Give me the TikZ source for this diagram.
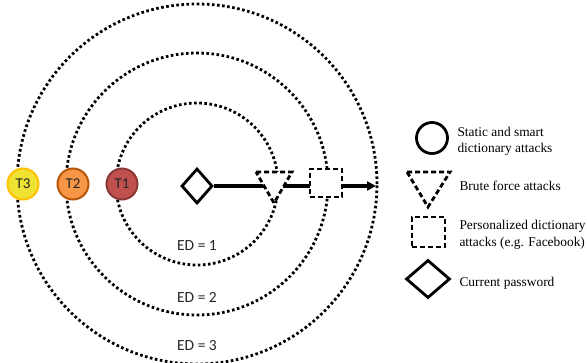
\documentclass[tikz,border=0pt]{standalone}
\usepackage{fontspec}
\setmainfont{Liberation Serif}
\newfontfamily\edfont{Carlito}
\usetikzlibrary{arrows.meta,shapes.geometric,shadows}
\begin{document}
\begin{tikzpicture}[x=1pt,y=-1pt,
 ring/.style={line width=2.8pt, dash pattern=on 2.6pt off 2.5pt},
 tnode/.style={circle, minimum size=31pt, inner sep=0pt, line width=2pt, font=\edfont\fontsize{15}{15}\selectfont, text=black!85},
 edlabel/.style={font=\edfont\fontsize{15.5}{16}\selectfont, text=black!85},
 legtext/.style={anchor=west, align=left, font=\fontsize{13.4}{16.5}\selectfont},
 dashshape/.style={line width=2.8pt, dash pattern=on 5pt off 3pt, fill=white},
 shd/.style={drop shadow={shadow xshift=1.2pt, shadow yshift=-1.2pt, fill=black!30, opacity=0.6}},
]
\useasboundingbox (0,0) rectangle (587,362);
\begin{scope}
\clip (0,0) rectangle (587,362);
\draw[ring] (197,184) circle[radius=81pt];
\draw[ring] (197,184) circle[radius=131pt];
\draw[ring] (197,184) circle[radius=180pt];
\end{scope}
% T nodes
\node[tnode, fill={rgb,255:red,192;green,80;blue,77}, draw={rgb,255:red,140;green,56;blue,54}] (t1) at (122,184) {T1};
\node[tnode, fill={rgb,255:red,247;green,150;blue,70}, draw={rgb,255:red,182;green,87;blue,8}] (t2) at (73,184) {T2};
\node[tnode, fill={rgb,255:red,238;green,226;blue,50}, draw={rgb,255:red,255;green,192;blue,0}] (t3) at (23,184) {T3};
% current password and attacks
\node[diamond, draw, line width=2.8pt, fill=white, minimum width=31pt, minimum height=35pt, inner sep=0pt, shd] (d) at (197,186) {};
\coordinate (tip) at (376,186);
\draw[line width=3.2pt, -{Triangle[length=9pt,width=9pt]}] (d) -- (tip);
\draw[dashshape] (256,172) -- (292,172) -- (274,203) -- cycle;
\node[draw, dashshape, minimum width=32pt, minimum height=28pt, inner sep=0pt] (sq) at (326,183) {};
% ED labels
\node[edlabel] (ed1) at (197,246) {ED = 1};
\node[edlabel] (ed2) at (197,297) {ED = 2};
\node[edlabel] (ed3) at (197,346) {ED = 3};
% legend
\node[circle, draw, line width=2.8pt, minimum size=31pt, inner sep=0pt] (lc) at (432,138) {};
\node[legtext] (l1) at (454,141.5) {Static and smart\\dictionary attacks};
\draw[dashshape] (407,172) -- (450,172) -- (428,207) -- cycle;
\node[legtext] (l2) at (456,186) {Brute force attacks};
\node[draw, dashshape, minimum width=33pt, minimum height=30pt, inner sep=0pt] (ls) at (428.5,232) {};
\node[legtext] (l3) at (456,235) {Personalized dictionary\\attacks (e.g. Facebook)};
\node[diamond, draw, line width=2.8pt, minimum width=44pt, minimum height=38pt, inner sep=0pt] (ld) at (428,279) {};
\node[legtext] (l4) at (456,283) {Current password};
\end{tikzpicture}
\end{document}
